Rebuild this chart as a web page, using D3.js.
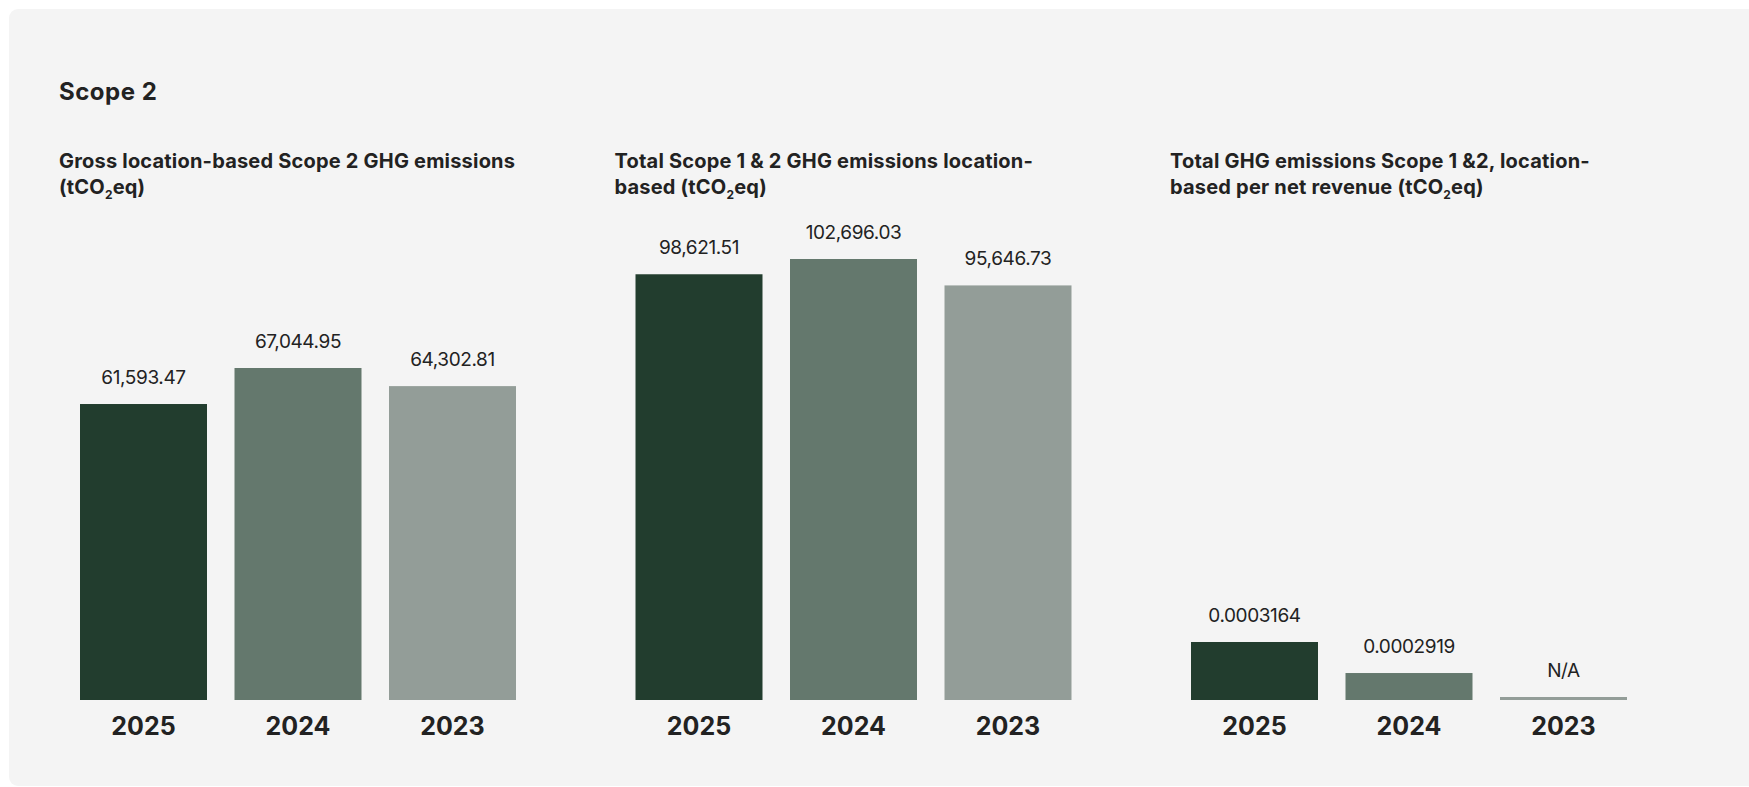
<!DOCTYPE html>
<html>
<head>
<meta charset="utf-8">
<script src="https://cdn.jsdelivr.net/npm/d3@7"></script>
<style>
  html, body { margin: 0; padding: 0; background: #ffffff; }
  svg { display: block; }
  text { font-family: Inter, "Noto Sans", sans-serif; fill: #222222; }
</style>
</head>
<body>
<svg id="chart" width="1749" height="787"></svg>
<script>
// ---------------- DATA ----------------
const years = ["2025", "2024", "2023"];
const grossLocationScope2 = [61593.47, 67044.95, 64302.81];
const totalScope12Location = [98621.51, 102696.03, 95646.73];
const perNetRevenue = [0.0003164, 0.0002919, null];

const sectionTitle = "Scope 2";
// "|" marks the subscript part
const panelTitles = [
  ["Gross location-based Scope 2 GHG emissions", "(tCO|2|eq)"],
  ["Total Scope 1 & 2 GHG emissions location-", "based (tCO|2|eq)"],
  ["Total GHG emissions Scope 1 &2, location-", "based per net revenue (tCO|2|eq)"]
];
const naLabel = "N/A";

// ---------------- LAYOUT ----------------
const W = 1749, H = 787;
const barColors = ["#223d2e", "#64786d", "#939d98"];
const baseY = 700;
const panelStep = 555.5;
const barsStart = 80, barsWidth = 436;
const titleX = 59;
const subY = 168, subLine = 26;

const panels = [
  { values: grossLocationScope2, domain: [16800, 67044.95], top: 368, fmt: d3.format(",.2f") },
  { values: totalScope12Location, domain: [-15000, 102696.03], top: 259, fmt: d3.format(",.2f") },
  { values: perNetRevenue, domain: [0.0002706, 0.0003164], top: 642, fmt: d3.format(".7f") }
];

const svg = d3.select("#chart");

// panel background
svg.append("rect")
  .attr("x", 9).attr("y", 9)
  .attr("width", W + 20).attr("height", 777)
  .attr("rx", 9).attr("ry", 9)
  .attr("fill", "#f4f4f4");

svg.append("text")
  .attr("x", titleX).attr("y", 100)
  .attr("font-size", 24).attr("font-weight", 700)
  .attr("letter-spacing", 0.5)
  .text(sectionTitle);

panels.forEach((p, i) => {
  const g = svg.append("g").attr("transform", `translate(${i * panelStep},0)`);

  // subtitle
  const t = g.append("text")
    .attr("x", titleX).attr("y", subY)
    .attr("font-size", 20).attr("font-weight", 700)
    .attr("letter-spacing", 0.2);
  panelTitles[i].forEach((line, li) => {
    const parts = line.split("|");
    parts.forEach((part, pi) => {
      const ts = t.append("tspan").text(part);
      if (pi === 0) {
        ts.attr("x", titleX).attr("y", subY + li * subLine);
      }
      if (pi === 1) {
        ts.attr("font-size", 12).attr("dy", 5);
      }
      if (pi === 2) {
        ts.attr("dy", -5);
      }
    });
  });

  const x = d3.scaleBand()
    .domain(years)
    .range([barsStart, barsStart + barsWidth])
    .paddingInner(0.178)
    .paddingOuter(0);

  const y = d3.scaleLinear()
    .domain(p.domain)
    .range([baseY, p.top]);

  const data = years.map((yr, k) => ({ year: yr, value: p.values[k], color: barColors[k] }));

  const barTop = d => d.value == null ? baseY - 3 : y(d.value);

  g.selectAll("rect.bar")
    .data(data)
    .join("rect")
    .attr("class", "bar")
    .attr("x", d => x(d.year))
    .attr("width", x.bandwidth())
    .attr("y", d => barTop(d))
    .attr("height", d => baseY - barTop(d))
    .attr("fill", d => d.color);

  g.selectAll("text.val")
    .data(data)
    .join("text")
    .attr("class", "val")
    .attr("x", d => x(d.year) + x.bandwidth() / 2)
    .attr("y", d => barTop(d) - 20)
    .attr("text-anchor", "middle")
    .attr("font-size", 19)
    .attr("letter-spacing", -0.4)
    .attr("fill", "#2a2a2a")
    .text(d => d.value == null ? naLabel : p.fmt(d.value));

  // x axis labels via d3 axis
  const axis = d3.axisBottom(x).tickSize(0).tickPadding(0);
  const ag = g.append("g")
    .attr("transform", `translate(0,${baseY})`)
    .call(axis);
  ag.select(".domain").remove();
  ag.selectAll(".tick text")
    .attr("dy", null)
    .attr("y", 35)
    .attr("font-size", 25)
    .attr("font-weight", 700)
    .attr("fill", "#222222")
    .style("font-family", "Inter, 'Noto Sans', sans-serif");
});
</script>
</body>
</html>
